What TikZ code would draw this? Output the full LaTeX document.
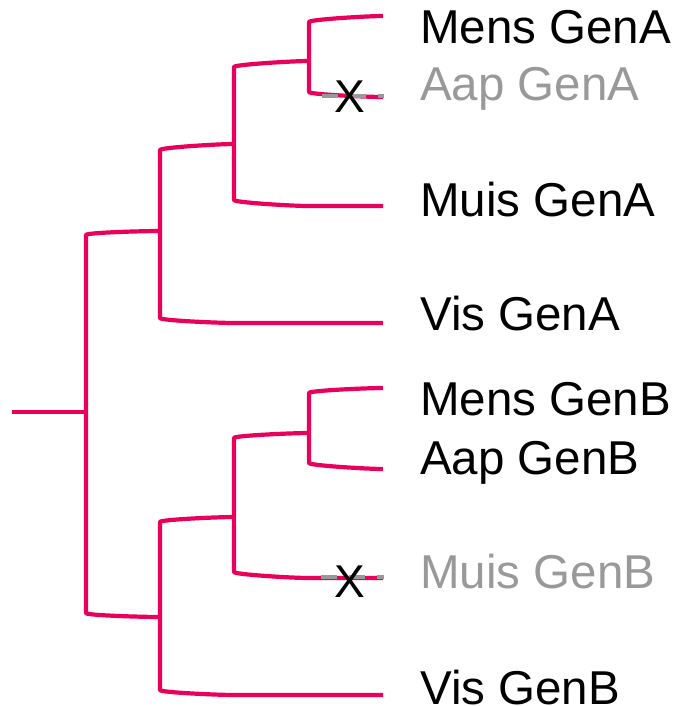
\documentclass[tikz,border=0pt]{standalone}
\usepackage{fontspec}
\setmainfont{Liberation Sans}
\definecolor{treepink}{HTML}{E8005A}
\definecolor{lossgray}{HTML}{999999}
\begin{document}
\begin{tikzpicture}[x=1pt,y=-1pt,
  branch/.style={draw=treepink,line width=4.2pt,line join=round},
  lossdash/.style={draw=lossgray,line width=4.2pt,dash pattern=on 16pt off 12pt},
  lab/.style={anchor=base west,inner sep=0pt,font=\fontsize{47.5}{52}\selectfont,text=black},
  lostlab/.style={lab,text=lossgray},
  xmark/.style={anchor=base,inner sep=0pt,font=\fontsize{46}{50}\selectfont,text=black}]
\useasboundingbox (0,0) rectangle (680,706);
% leaf tips
\coordinate (L1) at (383,16);
\coordinate (L2) at (383,97);
\coordinate (L3) at (383,206);
\coordinate (L4) at (383,323);
\coordinate (L5) at (383,388);
\coordinate (L6) at (383,469);
\coordinate (L7) at (383,578);
\coordinate (L8) at (383,695);
% internal nodes
\coordinate (A2) at (309,61);
\coordinate (A1) at (234,144);
\coordinate (A)  at (160,231);
\coordinate (B2) at (309,433);
\coordinate (B1) at (234,517);
\coordinate (B)  at (160,617);
\coordinate (R)  at (86,412);
\coordinate (root) at (12,412);
% vertical ends
\coordinate (A2t) at (309,22);  \coordinate (A2b) at (309,92);
\coordinate (A1t) at (234,67);  \coordinate (A1b) at (234,200);
\coordinate (At)  at (160,150); \coordinate (Ab)  at (160,318);
\coordinate (B2t) at (309,393); \coordinate (B2b) at (309,463);
\coordinate (B1t) at (234,438); \coordinate (B1b) at (234,572);
\coordinate (Bt)  at (160,522); \coordinate (Bb)  at (160,690);
\coordinate (Rt)  at (86,235);  \coordinate (Rb)  at (86,613);
% curve ends for long leaf branches
\coordinate (L3c) at (308,206);
\coordinate (L4c) at (234,323);
\coordinate (L7c) at (308,578);
\coordinate (L8c) at (234,695);
% root
\draw[branch] (root) -- (R);
\draw[branch] (A) .. controls +(-15,0) and +(0,-2.5) .. (Rt) -- (Rb) .. controls +(0,2.5) and +(-15,0) .. (B);
% clade A
\draw[branch] (A1) .. controls +(-15,0) and +(0,-2.5) .. (At) -- (Ab) .. controls +(0,2.5) and +(-15,0) .. (L4c) -- (L4);
\draw[branch] (A2) .. controls +(-15,0) and +(0,-2.5) .. (A1t) -- (A1b) .. controls +(0,2.5) and +(-15,0) .. (L3c) -- (L3);
\draw[branch] (L1) .. controls +(-15,0) and +(0,-2.5) .. (A2t) -- (A2b) .. controls +(0,2.5) and +(-15,0) .. (L2);
% clade B
\draw[branch] (B1) .. controls +(-15,0) and +(0,-2.5) .. (Bt) -- (Bb) .. controls +(0,2.5) and +(-15,0) .. (L8c) -- (L8);
\draw[branch] (B2) .. controls +(-15,0) and +(0,-2.5) .. (B1t) -- (B1b) .. controls +(0,2.5) and +(-15,0) .. (L7c) -- (L7);
\draw[branch] (L5) .. controls +(-15,0) and +(0,-2.5) .. (B2t) -- (B2b) .. controls +(0,2.5) and +(-15,0) .. (L6);
% loss markers
\coordinate (d1s) at (322,96); \coordinate (d1e) at (384,96);
\coordinate (d2s) at (321,577); \coordinate (d2e) at (384,577);
\draw[lossdash] (d1s) -- (d1e);
\draw[lossdash] (d2s) -- (d2e);
\node[xmark] (x1) at (350,113) {X};
\node[xmark] (x2) at (350,597) {X};
% labels
\node[lab] (t1) at (420,43.5) {Mens GenA};
\node[lostlab] (t2) at (420,100.5) {Aap GenA};
\node[lab] (t3) at (420,216) {Muis GenA};
\node[lab] (t4) at (420,330) {Vis GenA};
\node[lab] (t5) at (420,415.5) {Mens GenB};
\node[lab] (t6) at (420,474) {Aap GenB};
\node[lostlab] (t7) at (420,588) {Muis GenB};
\node[lab] (t8) at (420,704) {Vis GenB};
\end{tikzpicture}
\end{document}
